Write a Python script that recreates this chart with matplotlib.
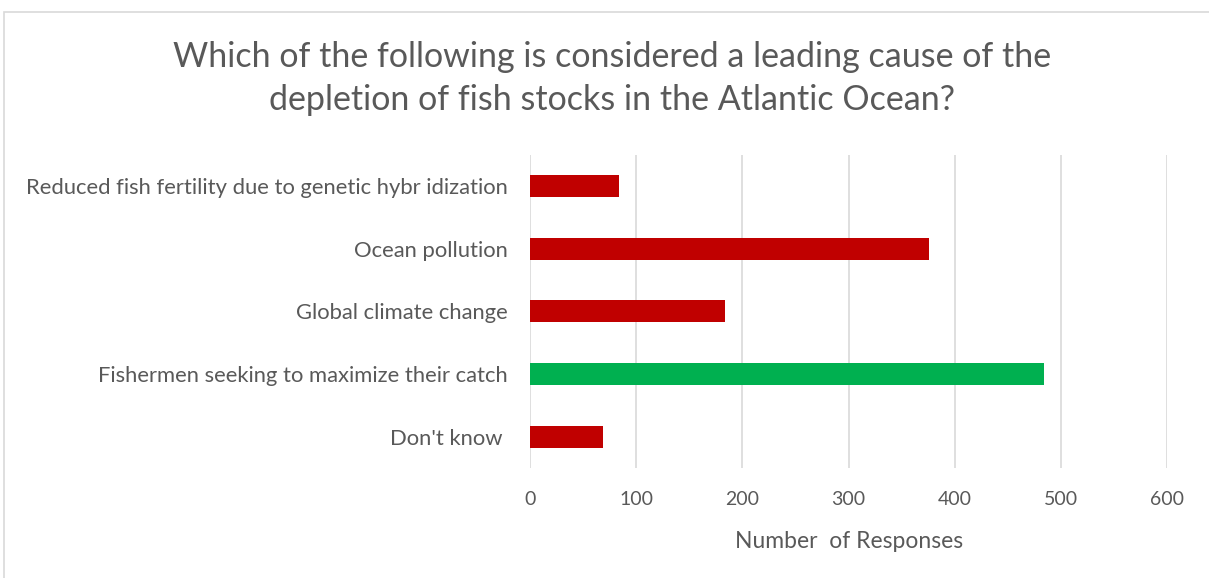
import matplotlib.pyplot as plt
from matplotlib.patches import Rectangle

categories = ["Reduced fish fertility due to genetic hybr idization",
              "Ocean pollution",
              "Global climate change",
              "Fishermen seeking to maximize their catch",
              "Don't know "]
responses = [84, 376, 184, 484, 69]
bar_colors = ["#C00000", "#C00000", "#C00000", "#00B050", "#C00000"]

plt.rcParams['font.family'] = ['Lato', 'DejaVu Sans']
text_color = "#595959"

fig = plt.figure(figsize=(12.09, 5.78), dpi=100)
ax = fig.add_axes([0.4384, 0.1896, 0.527, 0.543])

# frame round the whole chart
fig.patches.append(Rectangle((4 / 1209, -0.01), 1.1, 1 - 12 / 578 + 0.01,
                             transform=fig.transFigure, fill=False,
                             edgecolor="#D9D9D9", linewidth=1.2))

y = range(len(categories))
ax.barh(y, responses, height=0.35, color=bar_colors, zorder=3)
ax.set_ylim(len(categories) - 0.5, -0.5)
ax.set_xlim(0, 600)
ax.set_xticks(range(0, 601, 100))
ax.set_yticks(list(y))
ax.set_yticklabels(categories, fontsize=15.8)

ax.grid(axis='x', color="#D9D9D9", linewidth=1.2, zorder=0)
for s in ax.spines.values():
    s.set_visible(False)
ax.tick_params(axis='both', length=0, colors=text_color)
ax.tick_params(axis='x', labelsize=14, pad=16)
ax.tick_params(axis='y', pad=16)

ax.set_xlabel("Number  of Responses", color=text_color, fontsize=16.5, labelpad=17)

fig.text(0.506, 0.864, "Which of the following is considered a leading cause of the\n"
         "depletion of fish stocks in the Atlantic Ocean?",
         ha='center', va='center', fontsize=24.5, color=text_color, linespacing=1.42)

fig.savefig("out.png", dpi=100)
